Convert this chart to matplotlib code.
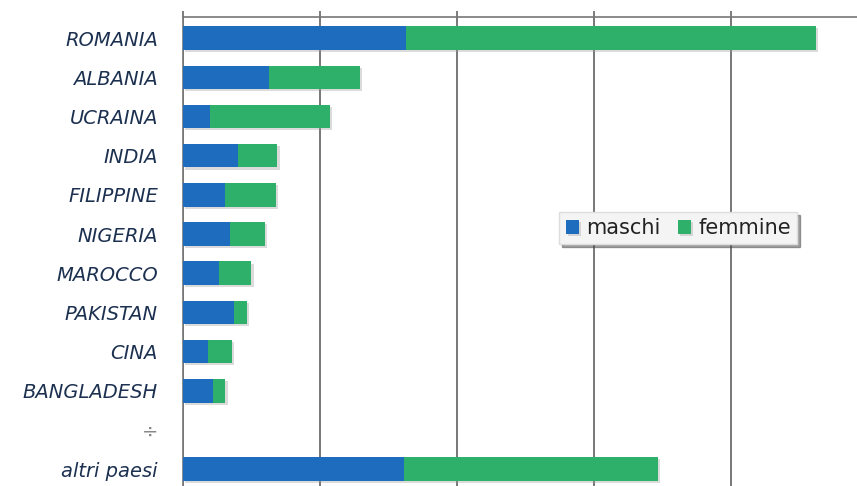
import matplotlib.pyplot as plt
import matplotlib.patheffects as pe
import numpy as np

# countries (top to bottom) and values (thousands)
paesi = ['ROMANIA', 'ALBANIA', 'UCRAINA', 'INDIA', 'FILIPPINE', 'NIGERIA',
         'MAROCCO', 'PAKISTAN', 'CINA', 'BANGLADESH', '÷', 'altri paesi']
maschi = [16.3, 6.3, 2.0, 4.0, 3.1, 3.4, 2.6, 3.7, 1.8, 2.2, 0, 16.1]
femmine = [29.9, 6.6, 8.7, 2.9, 3.7, 2.6, 2.4, 1.0, 1.8, 0.9, 0, 18.6]

blue = '#1e6cbd'
green = '#2eb06a'

fig = plt.figure(figsize=(8.57, 4.86), dpi=100)
ax = fig.add_axes([0.2135, 0.0, 0.7865, 0.965])

y = np.arange(len(paesi))
shadow = [pe.SimplePatchShadow(offset=(1.5, -1.5), shadow_rgbFace='#999999', alpha=0.35), pe.Normal()]
b1 = ax.barh(y, maschi, height=0.6, color=blue, label='maschi', zorder=3)
b2 = ax.barh(y, femmine, left=maschi, height=0.6, color=green, label='femmine', zorder=3)
for r in list(b1) + list(b2):
    r.set_path_effects(shadow)

ax.set_ylim(len(paesi) - 0.57, -0.54)
ax.set_xlim(0, 49.2)
ax.set_yticks(y)
ax.set_yticklabels(paesi, fontstyle='italic', fontsize=14, color='#1c3050', family='DejaVu Sans')
for lab in ax.get_yticklabels():
    if lab.get_text() == '÷':
        lab.set_color('#888888')
ax.tick_params(axis='y', length=0, pad=18)

ax.set_xticks([0, 10, 20, 30, 40])
ax.xaxis.tick_top()
ax.tick_params(axis='x', length=4, width=1.2, color='#666666', labeltop=False, labelbottom=False)
ax.grid(axis='x', color='#777777', linewidth=1.4, zorder=1)
ax.set_axisbelow(True)

for s in ['right', 'bottom']:
    ax.spines[s].set_visible(False)
for s in ['left', 'top']:
    ax.spines[s].set_color('#777777')
    ax.spines[s].set_linewidth(1.2)

leg = ax.legend(loc='center', bbox_to_anchor=(0.735, 0.55), ncol=2, frameon=True,
                fancybox=False, shadow=True, handlelength=0.65,
                handleheight=0.65, handletextpad=0.35, columnspacing=0.8,
                borderpad=0.3, prop={'family': 'DejaVu Sans', 'size': 15})
leg.get_frame().set_facecolor('#f4f4f4')
leg.get_frame().set_edgecolor('#dddddd')
for t in leg.get_texts():
    t.set_color('#222222')

fig.savefig('out.png', dpi=100)
